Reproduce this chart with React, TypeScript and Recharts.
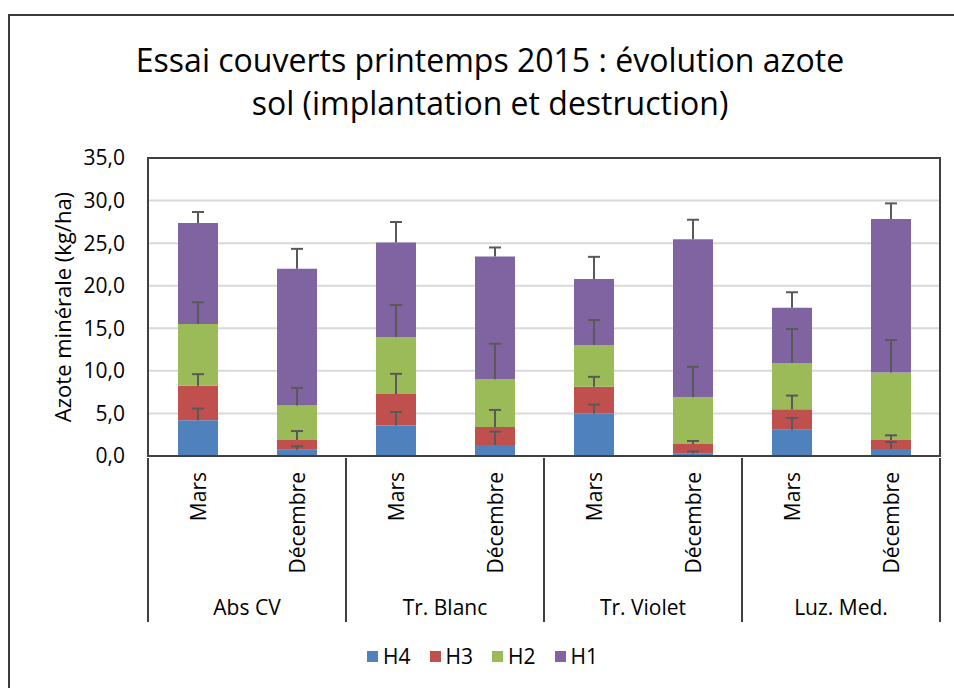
import React from 'react';
import { BarChart, Bar, XAxis, YAxis, CartesianGrid, ErrorBar, Legend, ReferenceArea } from 'recharts';

// categories (two-level axis: traitement / date)
const groups = ['Abs CV', 'Abs CV', 'Tr. Blanc', 'Tr. Blanc', 'Tr. Violet', 'Tr. Violet', 'Luz. Med.', 'Luz. Med.'];
const months = ['Mars', 'Décembre', 'Mars', 'Décembre', 'Mars', 'Décembre', 'Mars', 'Décembre'];

// azote minéral par horizon (kg/ha)
const h4 = [4.19, 0.74, 3.57, 1.28, 4.98, 0.27, 3.09, 0.81];
const h3 = [4.05, 1.13, 3.72, 2.12, 3.14, 1.13, 2.4, 1.06];
const h2 = [7.26, 4.05, 6.68, 5.62, 4.91, 5.5, 5.42, 7.94];
const h1 = [11.86, 16.06, 11.11, 14.41, 7.77, 18.57, 6.51, 18.02];

// écarts (barres d'erreur, vers le haut)
const errH4 = [1.38, 0.4, 1.6, 1.58, 1.06, 0.27, 1.38, 0.83];
const errH3 = [1.37, 1.06, 2.36, 2.01, 1.18, 0.36, 1.61, 0.56];
const errH2 = [2.56, 2.08, 3.77, 4.16, 2.94, 3.57, 4.0, 3.81];
const errH1 = [1.3, 2.35, 2.4, 1.06, 2.59, 2.28, 1.81, 1.84];

const yTicks = [0, 5, 10, 15, 20, 25, 30, 35];

const series = [
  { key: 'H4', color: '#4f81bd', err: 'eH4' },
  { key: 'H3', color: '#c0504d', err: 'eH3' },
  { key: 'H2', color: '#9bbb59', err: 'eH2' },
  { key: 'H1', color: '#8064a2', err: 'eH1' },
];

const data = months.map((m, i) => ({
  month: m,
  group: groups[i],
  H4: h4[i],
  H3: h3[i],
  H2: h2[i],
  H1: h1[i],
  eH4: errH4[i],
  eH3: errH3[i],
  eH2: errH2[i],
  eH1: errH1[i],
}));

const FONT = '"Open Sans", sans-serif';
const AXIS_H = 164;

// only the upper half of the error bar, like in the original
const upErr = (k: string) => (d: any) => {
  const src = d && d.payload ? d.payload : d;
  return [0, src[k]];
};

const MonthTick = (props: any) => {
  const { x, y, payload, index, visibleTicksCount } = props;
  const w = typeof props.width === 'number' ? props.width : 792;
  const band = w / (visibleTicksCount || 8);
  const ty = y + 14;
  return (
    <g>
      <text
        x={x}
        y={ty}
        transform={`rotate(-90, ${x}, ${ty})`}
        textAnchor="end"
        dominantBaseline="central"
        fontFamily={FONT}
        fontSize={21}
        fill="#000"
      >
        {payload.value}
      </text>
      {index % 2 === 0 && (
        <>
          <line x1={x - band / 2} x2={x - band / 2} y1={y} y2={y + AXIS_H} stroke="#404040" strokeWidth={2} />
          <text x={x + band / 2} y={y + 149} textAnchor="middle" dominantBaseline="central" fontFamily={FONT} fontSize={21} fill="#000">
            {groups[index]}
          </text>
        </>
      )}
      {index === (visibleTicksCount || 8) - 1 && (
        <line x1={x + band / 2} x2={x + band / 2} y1={y} y2={y + AXIS_H} stroke="#404040" strokeWidth={2} />
      )}
    </g>
  );
};

const YLabel = () => (
  <text
    x={62}
    y={307}
    transform="rotate(-90, 62, 307)"
    textAnchor="middle"
    dominantBaseline="central"
    fontFamily={FONT}
    fontSize={22}
    fill="#000"
  >
    Azote minérale (kg/ha)
  </text>
);

const LegendContent = (props: any) => {
  const items = props.payload || [];
  // keep the series order (H4 first)
  const ordered = series
    .map((s) => items.find((it: any) => it.value === s.key || it.dataKey === s.key))
    .filter(Boolean);
  return (
    <div style={{ display: 'flex', justifyContent: 'center', fontFamily: FONT, fontSize: 21, lineHeight: '28px', color: '#000' }}>
      {ordered.map((it: any) => (
        <div key={it.value} style={{ display: 'flex', alignItems: 'center', marginRight: 19 }}>
          <span style={{ display: 'inline-block', width: 11, height: 11, background: it.color, marginRight: 5 }} />
          <span>{it.value}</span>
        </div>
      ))}
    </div>
  );
};

export default function App() {
  return (
    <div style={{ position: 'absolute', left: 0, top: 0, width: 954, height: 688, background: '#fff', overflow: 'hidden' }}>
      <style>{'.recharts-errorBar line:nth-of-type(3){display:none}'}</style>
      <div
        style={{
          position: 'absolute',
          left: 8,
          top: 14,
          width: 946,
          height: 674,
          borderLeft: '2px solid #3a3a3a',
          borderTop: '2px solid #3a3a3a',
          boxSizing: 'border-box',
        }}
      />
      <div
        style={{
          position: 'absolute',
          left: 0,
          top: 38,
          width: 980,
          textAlign: 'center',
          fontFamily: FONT,
          fontSize: 32,
          lineHeight: '43px',
          color: '#000',
        }}
      >
        Essai couverts printemps 2015 : évolution azote
        <br />
        sol (implantation et destruction)
      </div>
      <div style={{ position: 'absolute', left: 0, top: 0 }}>
        <BarChart width={954} height={688} data={data} margin={{ top: 158, right: 14, left: 0, bottom: 68 }} barSize={40}>
          <CartesianGrid vertical={false} stroke="#d9d9d9" strokeWidth={2} />
          <XAxis
            dataKey="month"
            interval={0}
            height={AXIS_H}
            tickLine={false}
            tickSize={0}
            axisLine={{ stroke: '#404040', strokeWidth: 2 }}
            tick={<MonthTick />}
          />
          <YAxis
            width={148}
            domain={[0, 35]}
            ticks={yTicks}
            interval={0}
            tickLine={false}
            tickSize={0}
            tickMargin={23}
            axisLine={{ stroke: '#404040', strokeWidth: 2 }}
            tickFormatter={(v: number) => v.toFixed(1).replace('.', ',')}
            tick={{ fontFamily: FONT, fontSize: 21, fill: '#000' }}
            label={<YLabel />}
          />
          {series.map((s) => (
            <Bar key={s.key} dataKey={s.key} stackId="a" fill={s.color} isAnimationActive={false}>
              <ErrorBar
                dataKey={upErr(s.err)}
                direction="y"
                width={6}
                stroke="#595959"
                strokeWidth={2}
                isAnimationActive={false}
              />
            </Bar>
          ))}
          <ReferenceArea y1={0} y2={35} fill="none" stroke="#404040" strokeWidth={2} ifOverflow="visible" />
          <Legend
            layout="horizontal"
            verticalAlign="middle"
            align="center"
            content={<LegendContent />}
            wrapperStyle={{ left: 0, top: 642, width: 984 }}
          />
        </BarChart>
      </div>
    </div>
  );
}
